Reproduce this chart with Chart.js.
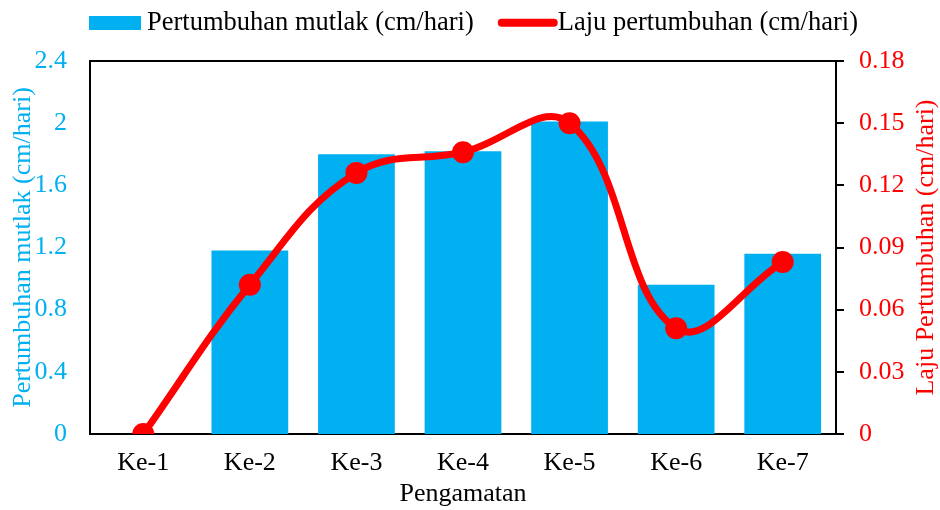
<!DOCTYPE html>
<html>
<head>
<meta charset="utf-8">
<script src="https://cdn.jsdelivr.net/npm/chart.js@4.4.1/dist/chart.umd.min.js"></script>
<style>
html,body{margin:0;padding:0;background:#fff;}
#wrap{width:940px;height:510px;position:relative;}
</style>
</head>
<body>
<div id="wrap"><canvas id="c" width="940" height="510"></canvas></div>
<script>
const categories = ['Ke-1','Ke-2','Ke-3','Ke-4','Ke-5','Ke-6','Ke-7'];
const absoluteGrowth = [0, 1.18, 1.80, 1.82, 2.01, 0.96, 1.16];
const growthRate = [0, 0.072, 0.126, 0.136, 0.150, 0.051, 0.083];
const leftTickLabels = ['0','0.4','0.8','1.2','1.6','2','2.4'];
const rightTickLabels = ['0','0.03','0.06','0.09','0.12','0.15','0.18'];
const barLabel = 'Pertumbuhan mutlak (cm/hari)';
const lineLabel = 'Laju pertumbuhan (cm/hari)';
const leftTitle = 'Pertumbuhan mutlak (cm/hari)';
const rightTitle = 'Laju Pertumbuhan (cm/hari)';
const xTitle = 'Pengamatan';

const BLUE = '#00B0F0';
const RED = '#FF0000';
const FONT = "'Liberation Serif', 'Times New Roman', serif";
const FS = 26;

const decor = {
  id: 'decor',
  afterDraw(chart) {
    const ctx = chart.ctx;
    const a = chart.chartArea;
    ctx.save();
    // top border of plot box
    ctx.strokeStyle = '#000';
    ctx.lineWidth = 2;
    ctx.beginPath();
    ctx.moveTo(a.left - 1, a.top);
    ctx.lineTo(a.right + 1, a.top);
    ctx.stroke();
    // right axis title (bottom-to-top)
    ctx.font = FS + 'px ' + FONT;
    ctx.fillStyle = RED;
    ctx.textAlign = 'center';
    ctx.textBaseline = 'middle';
    ctx.translate(926, (a.top + a.bottom) / 2);
    ctx.rotate(-Math.PI / 2);
    ctx.fillText(rightTitle, 0, 0);
    ctx.restore();

    // legend
    ctx.save();
    ctx.font = '26.5px ' + FONT;
    ctx.textBaseline = 'middle';
    ctx.textAlign = 'left';
    const ds = chart.data.datasets;
    let x = 89;
    const yc = 23;
    // bar swatch
    ctx.fillStyle = ds[1].backgroundColor;
    ctx.fillRect(x, 16, 52, 14);
    x += 58;
    ctx.fillStyle = '#000';
    ctx.fillText(ds[1].label, x, yc);
    x += ctx.measureText(ds[1].label).width + 24;
    // line swatch
    ctx.strokeStyle = ds[0].borderColor;
    ctx.lineWidth = 8;
    ctx.lineCap = 'round';
    ctx.beginPath();
    ctx.moveTo(x + 4, 22.7);
    ctx.lineTo(x + 56, 22.7);
    ctx.stroke();
    x += 60;
    ctx.fillStyle = '#000';
    ctx.fillText(ds[0].label, x, yc);
    ctx.restore();
  }
};

new Chart(document.getElementById('c'), {
  data: {
    labels: categories,
    datasets: [
      {
        type: 'line',
        label: lineLabel,
        data: growthRate,
        yAxisID: 'y1',
        borderColor: RED,
        backgroundColor: RED,
        borderWidth: 7,
        pointRadius: 11,
        pointBackgroundColor: RED,
        pointBorderWidth: 0,
        tension: 0.4,
        clip: 0,
        order: 0
      },
      {
        type: 'bar',
        label: barLabel,
        data: absoluteGrowth,
        yAxisID: 'y',
        backgroundColor: BLUE,
        borderWidth: 0,
        barPercentage: 0.72,
        categoryPercentage: 1.0,
        order: 1
      }
    ]
  },
  options: {
    responsive: false,
    animation: false,
    devicePixelRatio: 1,
    layout: { padding: { top: 61, left: 0, right: 0, bottom: 0 } },
    plugins: {
      legend: { display: false },
      tooltip: { enabled: false }
    },
    scales: {
      x: {
        grid: { display: false, drawTicks: false },
        border: { display: true, color: '#000', width: 2 },
        ticks: { color: '#000', font: { family: FONT, size: FS }, padding: 14, maxRotation: 0 },
        title: { display: true, text: xTitle, color: '#000', font: { family: FONT, size: FS }, padding: { top: 0, bottom: 0 } },
        afterFit(s) { s.height = 76; }
      },
      y: {
        position: 'left',
        min: 0, max: 2.4,
        afterBuildTicks(s) { s.ticks = leftTickLabels.map(t => ({ value: parseFloat(t) })); },
        grid: { display: false, drawTicks: false },
        border: { display: true, color: '#000', width: 2 },
        ticks: {
          color: BLUE, font: { family: FONT, size: FS }, padding: 23,
          callback: (v, i) => leftTickLabels[i]
        },
        title: { display: true, text: leftTitle, color: BLUE, font: { family: FONT, size: FS }, padding: { top: 8, bottom: 0 } },
        afterFit(s) { s.width = 90; }
      },
      y1: {
        position: 'right',
        min: 0, max: 0.18,
        afterBuildTicks(s) { s.ticks = rightTickLabels.map(t => ({ value: parseFloat(t) })); },
        grid: { display: true, drawOnChartArea: false, drawTicks: true, tickLength: 8, color: '#000', lineWidth: 2 },
        border: { display: true, color: '#000', width: 2 },
        ticks: {
          color: RED, font: { family: FONT, size: FS }, padding: 15,
          callback: (v, i) => rightTickLabels[i]
        },
        afterFit(s) { s.width = 104; }
      }
    }
  },
  plugins: [decor]
});
</script>
</body>
</html>
